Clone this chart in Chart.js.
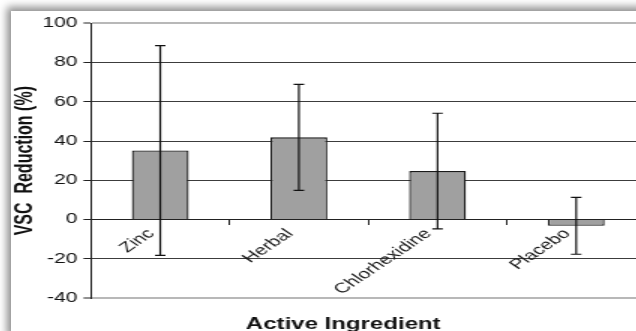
<!DOCTYPE html>
<html>
<head>
<meta charset="utf-8">
<script src="https://cdn.jsdelivr.net/npm/chart.js@4"></script>
<style>
  html, body { margin: 0; padding: 0; width: 636px; height: 331px; overflow: hidden; background: #fff; }
  #frame {
    position: absolute; left: 11px; top: 11px; width: 640px; height: 330px;
    background: #fff; box-shadow: -4px -4px 8px rgba(0,0,0,0.45);
  }
  /* the original picture is stretched sideways, so the canvas is too */
  #chart { display: block; transform: scaleX(1.5); transform-origin: 0 0; }
</style>
</head>
<body>
<div id="frame"><canvas id="chart" width="426" height="320"></canvas></div>
<script>
// VSC reduction by active ingredient, mean +/- error
let categories = ["Zinc", "Herbal", "Chlorhexidine", "Placebo"];
let means = [35.2, 41.9, 24.7, -3.2];
let errors = [53.5, 27.0, 29.5, 14.5];
let yTicks = { min: -40, max: 100, step: 20 };

Chart.defaults.font.family = '"Liberation Sans", Arial, sans-serif';
Chart.defaults.color = '#111';

const errorBars = {
    id: 'errorBars',
    afterDatasetsDraw(chart) {
        const { ctx, scales: { x, y } } = chart;
        ctx.save();
        ctx.strokeStyle = '#111';
        ctx.lineWidth = 1.2;
        categories.forEach((c, i) => {
            const px = x.getPixelForValue(i);
            const top = y.getPixelForValue(means[i] + errors[i]);
            const bot = y.getPixelForValue(means[i] - errors[i]);
            ctx.beginPath();
            ctx.moveTo(px, top); ctx.lineTo(px, bot);
            ctx.moveTo(px - 3.5, top); ctx.lineTo(px + 3.5, top);
            ctx.moveTo(px - 3.5, bot); ctx.lineTo(px + 3.5, bot);
            ctx.stroke();
        });
        ctx.restore();
    }
};

// x title sits at the bottom, the x axis itself sits on zero
const bottomTitle = {
    id: 'bottomTitle',
    afterDraw(chart) {
        const { ctx, chartArea } = chart;
        ctx.save();
        ctx.font = 'bold 16px "Liberation Sans", Arial, sans-serif';
        ctx.fillStyle = '#111';
        ctx.textAlign = 'center';
        ctx.textBaseline = 'alphabetic';
        ctx.fillText('Active Ingredient', chartArea.left + chartArea.width * 0.455, 318);
        ctx.restore();
    }
};

new Chart(document.getElementById('chart'), {
    type: 'bar',
    data: {
        labels: categories,
        datasets: [{
            label: 'VSC Reduction',
            data: means,
            backgroundColor: '#a0a0a0',
            borderColor: '#1a1a1a',
            borderWidth: 1.3,
            barPercentage: 0.41,
            categoryPercentage: 1.0,
        }]
    },
    options: {
        responsive: false,
        animation: false,
        layout: { padding: { left: 0, right: 3, top: 10, bottom: 33 } },
        plugins: {
            legend: { display: false },
            tooltip: { enabled: false },
        },
        scales: {
            x: {
                position: { y: 0 },
                offset: true,
                grid: {
                    drawOnChartArea: false,
                    drawTicks: true,
                    tickLength: 5,
                    offset: true,
                    color: '#222',
                },
                border: { display: true, color: '#222', width: 1 },
                ticks: {
                    autoSkip: false,
                    minRotation: 45,
                    maxRotation: 45,
                    padding: 1,
                    labelOffset: -6,
                    font: { size: 14 },
                    color: '#1a1a1a',
                },
            },
            y: {
                min: yTicks.min,
                max: yTicks.max,
                afterFit: (scale) => { scale.width = 53.3; },
                ticks: {
                    stepSize: yTicks.step,
                    padding: 4,
                    font: { size: 14 },
                    color: '#111',
                },
                grid: {
                    color: (c) => (c.tick && (c.tick.value === yTicks.max || c.tick.value === yTicks.min)) ? '#b8b8b8' : '#3c3c3c',
                    lineWidth: (c) => (c.tick && (c.tick.value === yTicks.max || c.tick.value === yTicks.min)) ? 2 : 1,
                    tickColor: '#222',
                    tickWidth: 1,
                    tickLength: 5,
                },
                border: { display: true, color: '#222', width: 1 },
                title: {
                    display: true,
                    text: 'VSC  Reduction (%)',
                    font: { size: 16, weight: 'bold' },
                    color: '#111',
                    padding: { top: 0, bottom: 0 },
                },
            },
        },
    },
    plugins: [errorBars, bottomTitle],
});
</script>
</body>
</html>
